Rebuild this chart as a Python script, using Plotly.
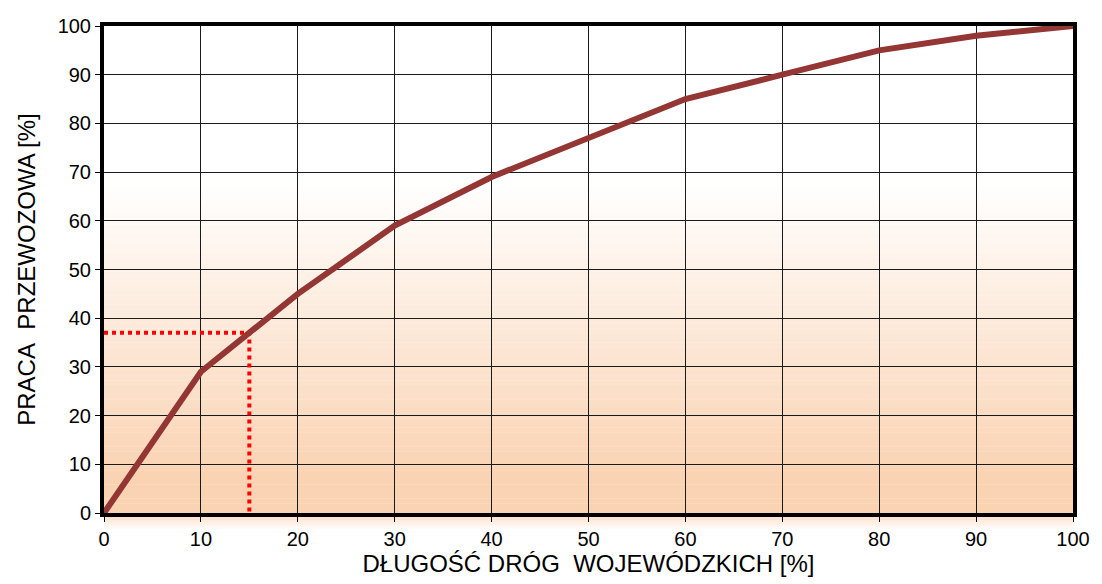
import plotly.graph_objects as go

x_vals = [0, 10, 20, 30, 40, 50, 60, 70, 80, 90, 100]
y_vals = [0, 29, 45, 59, 69, 77, 85, 90, 95, 98, 100]
marker_x = [0, 15, 15]
marker_y = [37, 37, 0]
x_ticks = list(range(0, 101, 10))
y_ticks = list(range(0, 101, 10))

FONT = "Liberation Sans, Arial"

fig = go.Figure()

# background gradient (decoration)
n = 70
v_full = 8      # below this value: full peach
v_white = 68    # above this value: white
c0 = (250, 211, 179)
c1 = (255, 255, 255)
shapes = []
for i in range(n):
    y0 = v_white * i / n
    y1 = v_white * (i + 1) / n
    mid = (y0 + y1) / 2
    t = min(max((mid - v_full) / (v_white - v_full), 0), 1)
    col = tuple(round(c0[k] + (c1[k] - c0[k]) * t) for k in range(3))
    shapes.append(dict(type="rect", xref="x domain", yref="y",
                       x0=0, x1=1, y0=y0, y1=y1 + 0.05,
                       fillcolor="rgb(%d,%d,%d)" % col, line=dict(width=0), layer="below"))
# soft glow below the bottom axis
m = 8
for i in range(m):
    t = (i + 1) / (m + 1)
    col = tuple(round(c0[k] + (c1[k] - c0[k]) * t) for k in range(3))
    shapes.append(dict(type="rect", xref="paper", yref="paper",
                       x0=0, x1=1, y0=-0.004 * (i + 1), y1=-0.004 * i,
                       fillcolor="rgb(%d,%d,%d)" % col, line=dict(width=0), layer="below"))

fig.add_trace(go.Scatter(x=marker_x, y=marker_y, mode="lines",
                         line=dict(color="#FF0000", width=4, dash="dot"),
                         hoverinfo="skip", showlegend=False))
fig.add_trace(go.Scatter(x=x_vals, y=y_vals, mode="lines",
                         line=dict(color="#943634", width=6),
                         showlegend=False))

axis_common = dict(showgrid=True, gridcolor="#1a1a1a", gridwidth=1,
                   showline=True, linecolor="#000000", linewidth=4, mirror=True,
                   ticks="outside", ticklen=5, tickcolor="#000000", tickwidth=1,
                   tickfont=dict(family=FONT, size=20, color="#000000"),
                   ticklabeloverflow="allow",
                   zeroline=False, range=[0, 100])

fig.update_layout(
    width=1102, height=584,
    margin=dict(l=104, r=21, t=26, b=68),
    paper_bgcolor="#FFFFFF", plot_bgcolor="#FFFFFF",
    shapes=shapes,
    xaxis=dict(axis_common, tickvals=x_ticks,
               title=dict(text="DŁUGOŚĆ DRÓG\u00a0\u00a0WOJEWÓDZKICH [%]", standoff=5,
                          font=dict(family=FONT, size=24, color="#000000"))),
    yaxis=dict(axis_common, tickvals=y_ticks,
               title=dict(text="PRACA\u00a0\u00a0PRZEWOZOWA [%]", standoff=16,
                          font=dict(family=FONT, size=24, color="#000000"))),
)

fig.write_html("out.html", config={"displayModeBar": False},
               post_script="document.documentElement.style.overflow='hidden';"
                           "document.body.style.margin='0';"
                           "document.body.style.overflow='hidden';")
